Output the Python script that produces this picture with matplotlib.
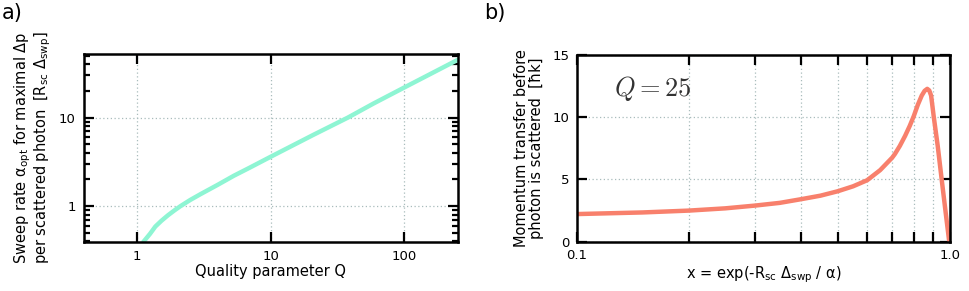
import numpy as np
import matplotlib
matplotlib.use("Agg")
import matplotlib.pyplot as plt
from matplotlib.ticker import LogLocator, FixedLocator, NullFormatter, FixedFormatter, NullLocator

plt.rcParams['font.family'] = ['DejaVu Sans']
plt.rcParams['mathtext.fontset'] = 'dejavusans'

# Panel a data: optimal sweep rate vs quality parameter
Q_vals = [1.13, 1.25, 1.37, 1.52, 1.7, 1.9, 2.12, 2.5, 3.0, 4.0, 5.31, 7.0, 10, 20.9,
          38, 59, 100, 253]
alpha_opt = [0.403, 0.485, 0.586, 0.68, 0.784, 0.89, 1.0, 1.17, 1.367, 1.73, 2.2, 2.72,
             3.6, 6.37, 10, 14.4, 21.8, 45]

# Panel b data: momentum transfer vs x (Q = 25)
x_vals = [0.1, 0.15, 0.2, 0.25, 0.3, 0.35, 0.4, 0.45, 0.5, 0.55, 0.6, 0.65, 0.7, 0.712,
          0.734, 0.758, 0.78, 0.8, 0.82, 0.84, 0.855, 0.869, 0.88, 0.89, 0.905, 0.927,
          0.95, 0.974, 0.994, 1.0]
dp_vals = [2.22, 2.35, 2.5, 2.68, 2.9, 3.12, 3.42, 3.7, 4.05, 4.45, 4.94, 5.75, 6.75, 7.05,
           7.7, 8.5, 9.3, 10.1, 11.0, 11.74, 12.12, 12.28, 12.15, 11.74, 10.0, 7.7,
           5.0, 2.3, 0.14, 0.0]

fig = plt.figure(figsize=(9.69, 2.91), dpi=100)

grid_kw = dict(color='#a9bcbc', linestyle=(0, (1, 2)), linewidth=0.9)
fs = 9.5

# ---------------- Panel a ----------------
ax1 = fig.add_axes([84/969, 1-241.7/291, (457.7-84)/969, (241.7-54.3)/291])
ax1.plot(Q_vals, alpha_opt, color='#8ef5d3', lw=3.2, solid_joinstyle='round')
ax1.set_xscale('log')
ax1.set_yscale('log')
ax1.set_xlim(0.4, 253)
ax1.set_ylim(0.395, 52)
ax1.xaxis.set_major_locator(FixedLocator([1, 10, 100]))
ax1.xaxis.set_major_formatter(FixedFormatter(['1', '10', '100']))
ax1.xaxis.set_minor_locator(NullLocator())
ax1.yaxis.set_major_locator(FixedLocator([1, 10]))
ax1.yaxis.set_major_formatter(FixedFormatter(['1', '10']))
ax1.yaxis.set_minor_locator(LogLocator(base=10, subs=np.arange(2, 10), numticks=20))
ax1.yaxis.set_minor_formatter(NullFormatter())
ax1.grid(True, which='major', **grid_kw)
ax1.tick_params(which='both', direction='in', top=True, right=True, width=1.6, labelsize=fs)
ax1.tick_params(which='major', length=7, pad=6)
ax1.tick_params(which='minor', length=4)
ax1.set_xlabel('Quality parameter Q', fontsize=10.5, labelpad=1)
ax1.set_ylabel('Sweep rate α$_{\\rm opt}$ for maximal Δp\nper scattered photon  [R$_{\\rm sc}$ Δ$_{\\rm swp}$]',
               fontsize=10.5, labelpad=4, linespacing=1.0)
for s in ax1.spines.values():
    s.set_linewidth(1.8)

# ---------------- Panel b ----------------
ax2 = fig.add_axes([576.7/969, 1-241.7/291, (950-576.7)/969, (241.7-55)/291])
ax2.plot(x_vals, dp_vals, color='#f8806c', lw=3.2, solid_joinstyle='round')
ax2.set_xscale('log')
ax2.set_xlim(0.1, 1.0)
ax2.set_ylim(0, 15)
ax2.xaxis.set_major_locator(FixedLocator([0.1, 1.0]))
ax2.xaxis.set_major_formatter(FixedFormatter(['0.1', '1.0']))
ax2.xaxis.set_minor_locator(FixedLocator([0.2, 0.3, 0.4, 0.5, 0.6, 0.7, 0.8, 0.9]))
ax2.xaxis.set_minor_formatter(NullFormatter())
ax2.yaxis.set_major_locator(FixedLocator([0, 5, 10, 15]))
ax2.grid(True, which='minor', axis='x', **grid_kw)
ax2.grid(True, which='major', axis='y', **grid_kw)
ax2.tick_params(which='both', direction='in', top=True, right=True, width=1.6, labelsize=fs)
ax2.tick_params(which='major', length=7, pad=5)
ax2.tick_params(which='minor', length=7)
ax2.set_xlabel('x = exp(-R$_{\\rm sc}$ Δ$_{\\rm swp}$ / α)', fontsize=10.5, labelpad=2)
ax2.set_ylabel('Momentum transfer before\nphoton is scattered  [ħk]', fontsize=10.5,
               labelpad=6, linespacing=1.0)
ax2.text(0.10, 0.82, r'$Q = 25$', transform=ax2.transAxes, fontsize=19,
         ha='left', va='center', color='#333333', math_fontfamily='cm')
for s in ax2.spines.values():
    s.set_linewidth(1.8)

fig.text(2/969, 1-13/291, 'a)', fontsize=15, ha='left', va='center')
fig.text(484/969, 1-13/291, 'b)', fontsize=15, ha='left', va='center')

fig.savefig('out.png', dpi=100)
